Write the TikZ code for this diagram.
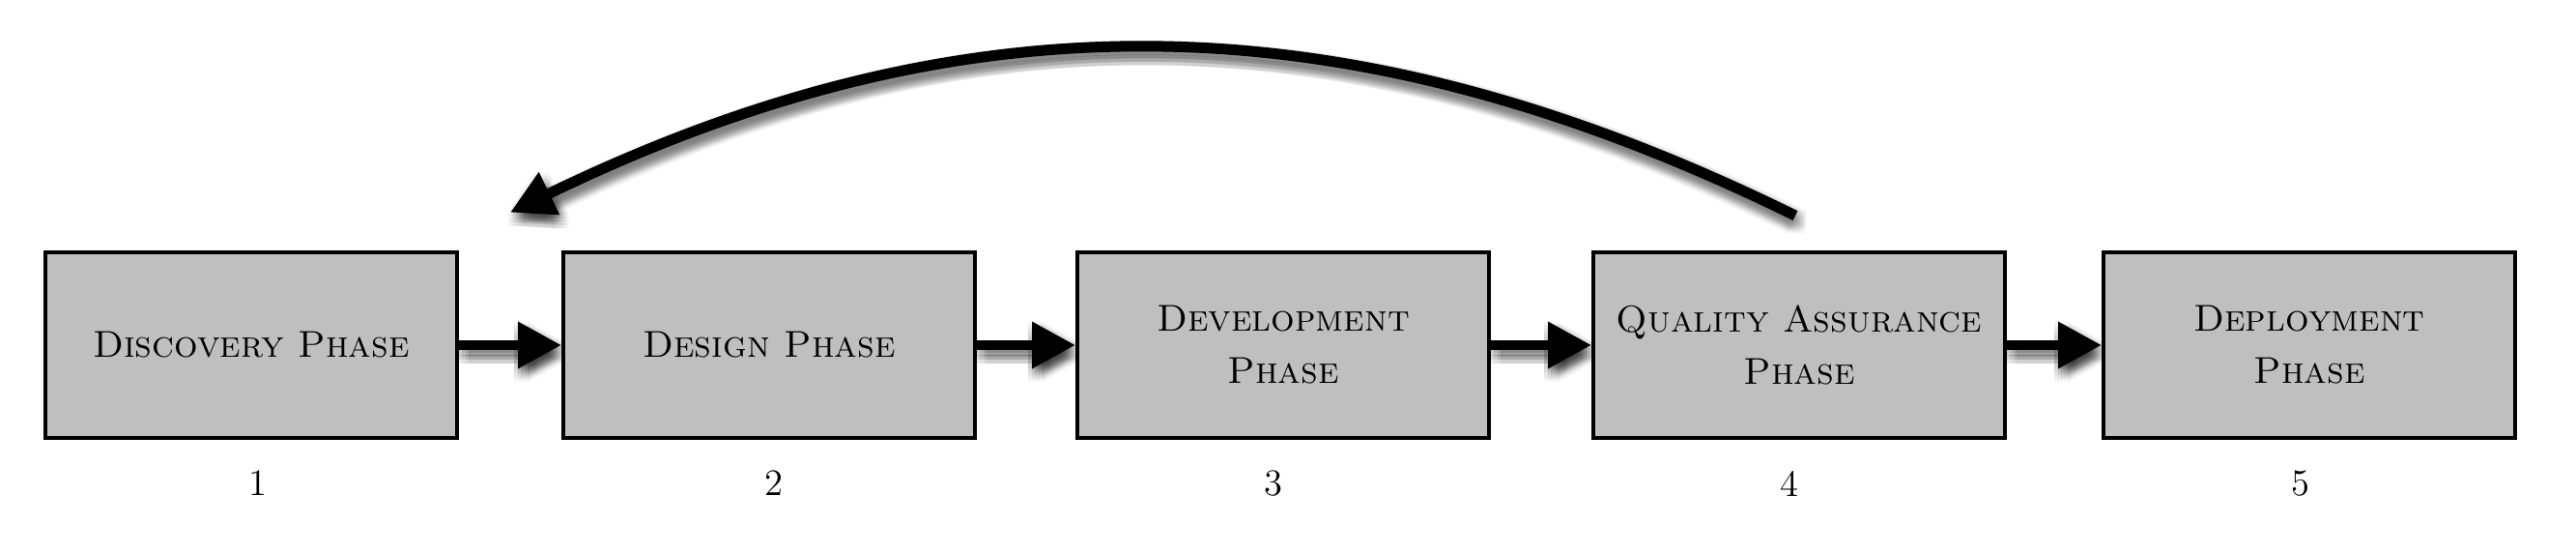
\documentclass[tikz,border=0pt]{standalone}
\usetikzlibrary{arrows.meta,calc}
\pgfdeclarelayer{shadowlayer}
\pgfsetlayers{shadowlayer,main}
\definecolor{boxgray}{RGB}{191,191,191}
\tikzset{
  phase/.style={draw=black, line width=0.04cm, fill=boxgray, minimum width=4.26cm,
    minimum height=1.925cm, inner sep=0pt, align=center,
    font=\fontsize{11}{15.4}\selectfont\scshape},
  num/.style={inner sep=0pt, font=\fontsize{11}{13}\selectfont},
  flow/.style={line width=0.10cm, -{Triangle[length=0.45cm,width=0.46cm]}},
  backflow/.style={flow, line width=0.11cm},
}
\newcommand\shadowdraw[2]{%
  \begin{pgfonlayer}{shadowlayer}
  \foreach \sx in {-2,...,2}{\foreach \sy in {-2,...,2}{
    \draw[#1, opacity=0.04, transform canvas={shift={(0.03+0.035*\sx,-0.07+0.035*\sy)}}] #2;
  }}
  \end{pgfonlayer}
  \draw[#1] #2;
}
\begin{document}
\begin{tikzpicture}
\useasboundingbox (0,0) rectangle (26.66,-5.72);
\node[phase] (b1) at (2.60,-3.57) {Discovery Phase};
\node[phase] (b2) at (7.96,-3.57) {Design Phase};
\node[phase] (b3) at (13.28,-3.57) {Development\\Phase};
\node[phase] (b4) at (18.62,-3.57) {Quality Assurance\\Phase};
\node[phase] (b5) at (23.90,-3.57) {Deployment\\Phase};
\node[num] (n1) at (2.67,-5.00) {1};
\node[num] (n2) at (8.01,-5.00) {2};
\node[num] (n3) at (13.18,-5.00) {3};
\node[num] (n4) at (18.52,-5.00) {4};
\node[num] (n5) at (23.81,-5.00) {5};
\coordinate (qs) at ($(b4.north)+(-0.04,0.357)$);
\coordinate (dt) at ($(b1.north east)!0.5!(b2.north west)+(0,0.39)$);
\shadowdraw{flow}{(b1.east) -- (b2.west)}
\shadowdraw{flow}{(b2.east) -- (b3.west)}
\shadowdraw{flow}{(b3.east) -- (b4.west)}
\shadowdraw{flow}{(b4.east) -- (b5.west)}
\shadowdraw{backflow}{(qs) to[bend right=26] (dt)}
\end{tikzpicture}
\end{document}
